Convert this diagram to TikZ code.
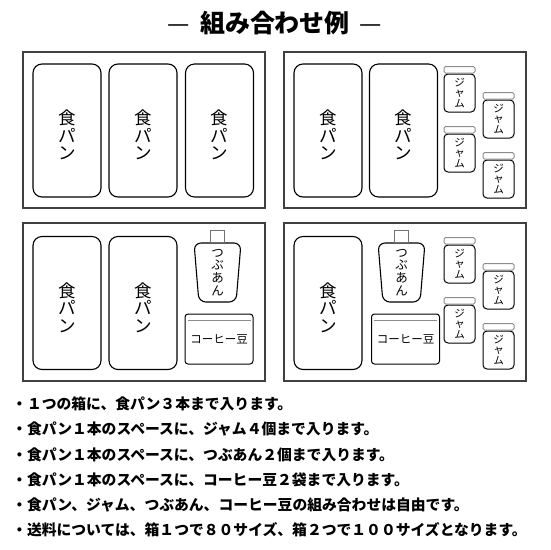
\documentclass[tikz,border=0pt]{standalone}
\usepackage{fontspec}
\newfontfamily\jpfont{Noto Sans CJK JP}
\usetikzlibrary{positioning,shapes.geometric}

\begin{document}
\begin{tikzpicture}[x=1pt, y=-1pt,
    casebox/.style={draw=black!75, line width=1.3pt},
    bread/.style={draw, rounded corners=9pt, line width=1.1pt, minimum width=68pt,
                  minimum height=133pt,
                  label={[align=center, yshift=-4.5pt,
                          font=\jpfont\fontsize{17.5}{17.5}\selectfont]center:食\\パ\\ン}},
    jam/.style={draw, rounded corners=4pt, line width=1pt, minimum width=31pt,
                minimum height=38pt, inner sep=0pt, align=center,
                font=\jpfont\fontsize{10.5}{10.5}\selectfont},
    lid/.style={draw=black!45, rounded corners=1.5pt, line width=1pt,
                minimum width=31pt, minimum height=6.5pt, inner sep=0pt},
    bottle/.style={trapezium, trapezium left angle=92, trapezium right angle=92,
                   trapezium stretches=true, draw, rounded corners=7pt,
                   line width=1.1pt, minimum width=47pt, minimum height=59pt,
                   inner sep=0pt, align=center,
                   font=\jpfont\fontsize{12.5}{12.8}\selectfont},
    bottlecap/.style={draw=black!55, line width=0.9pt, minimum width=14pt,
                minimum height=12pt, inner sep=0pt},
    beans/.style={draw, rounded corners=3pt, line width=1pt, minimum width=68pt,
                  minimum height=50pt, font=\jpfont\fontsize{11.5}{12}\selectfont},
    note/.style={anchor=west, inner sep=0pt,
                 font=\jpfont\bfseries\fontsize{14.8}{15}\selectfont}
]
\useasboundingbox (0,0) rectangle (550,550);

% title
\node[font=\jpfont\bfseries\fontsize{25}{26}\selectfont] (title) at (275,23.5)
    {{\mdseries —}\hspace{10pt}組み合わせ例\hspace{10pt}{\mdseries —}};

% four boxes
\draw[casebox] (23,52) rectangle (265,208);
\draw[casebox] (284,52) rectangle (526,208);
\draw[casebox] (23,223) rectangle (265,381);
\draw[casebox] (284,223) rectangle (526,381);

% box 1: three loaves
\node[bread] (b11) at (67,130.5) {};
\node[bread] (b12) at (143,130.5) {};
\node[bread] (b13) at (219.5,130.5) {};

% box 2: two loaves and four jams
\node[bread] (b21) at (328,130.5) {};
\node[bread] (b22) at (403.5,130.5) {};
\node[jam] (j21) at (459.5,93) {ジ\\ャ\\ム};
\node[jam] (j22) at (459.5,153) {ジ\\ャ\\ム};
\node[jam] (j23) at (498.5,119) {ジ\\ャ\\ム};
\node[jam] (j24) at (498.5,179) {ジ\\ャ\\ム};
\node[lid, above=0pt of j21] (l21) {};
\node[lid, above=0pt of j22] (l22) {};
\node[lid, above=0pt of j23] (l23) {};
\node[lid, above=0pt of j24] (l24) {};

% box 3: two loaves, tsubuan and coffee beans
\node[bread] (b31) at (67,303) {};
\node[bread] (b32) at (143,303) {};
\node[bottle] (t31) at (217.5,272.5) {つ\\ぶ\\あ\\ん};
\node[bottlecap, above=0pt of t31] (c31) {};
\node[beans] (k31) at (219,339) {コーヒー豆};
\draw[black!45, line width=0.9pt] ([xshift=3pt,yshift=-7pt]k31.north west)
    -- ([xshift=-3pt,yshift=-7pt]k31.north east);

% box 4: one loaf, tsubuan, coffee beans and four jams
\node[bread] (b41) at (328,303) {};
\node[bottle] (t41) at (401.5,272.5) {つ\\ぶ\\あ\\ん};
\node[bottlecap, above=0pt of t41] (c41) {};
\node[beans] (k41) at (405.5,339) {コーヒー豆};
\draw[black!45, line width=0.9pt] ([xshift=3pt,yshift=-7pt]k41.north west)
    -- ([xshift=-3pt,yshift=-7pt]k41.north east);
\node[jam] (j41) at (459.5,264) {ジ\\ャ\\ム};
\node[jam] (j42) at (459.5,324) {ジ\\ャ\\ム};
\node[jam] (j43) at (498.5,290) {ジ\\ャ\\ム};
\node[jam] (j44) at (498.5,350) {ジ\\ャ\\ム};
\node[lid, above=0pt of j41] (l41) {};
\node[lid, above=0pt of j42] (l42) {};
\node[lid, above=0pt of j43] (l43) {};
\node[lid, above=0pt of j44] (l44) {};

% notes
\node[note] (n1) at (12,404) {・１つの箱に、食パン３本まで入ります。};
\node[note] (n2) at (12,429.2) {・食パン１本のスペースに、ジャム４個まで入ります。};
\node[note] (n3) at (12,454.4) {・食パン１本のスペースに、つぶあん２個まで入ります。};
\node[note] (n4) at (12,479.6) {・食パン１本のスペースに、コーヒー豆２袋まで入ります。};
\node[note] (n5) at (12,504.8) {・食パン、ジャム、つぶあん、コーヒー豆の組み合わせは自由です。};
\node[note] (n6) at (12,530) {・送料については、箱１つで８０サイズ、箱２つで１００サイズとなります。};
\end{tikzpicture}
\end{document}
